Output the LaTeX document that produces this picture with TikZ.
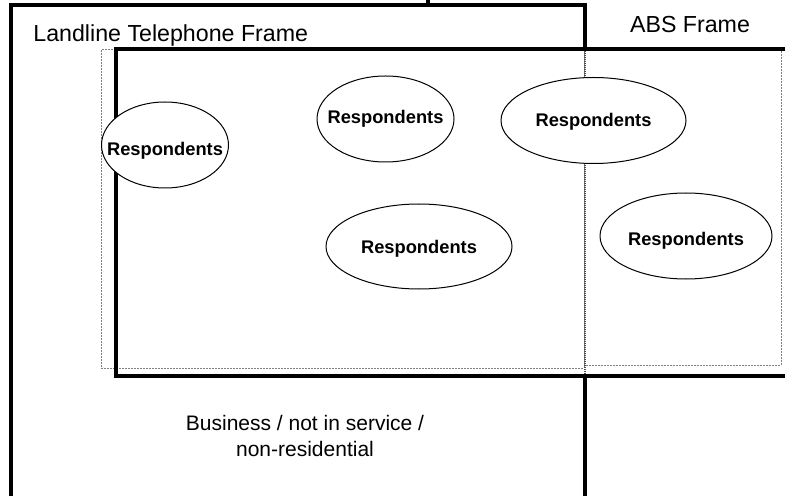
\documentclass[tikz,border=0pt]{standalone}
\usepackage{fontspec}
\setmainfont{Liberation Sans}
\usetikzlibrary{shapes.geometric}

\begin{document}
\begin{tikzpicture}[
  x=0.5pt, y=-0.5pt,
  frame/.style={line width=2pt},
  edge/.style={gray, line width=0.5pt, dash pattern=on 1pt off 0.5pt},
  split/.style={black!70, line width=1pt, dash pattern=on 0.6pt off 0.4pt},
  resp/.style={ellipse, draw, fill=white, line width=0.5pt, inner sep=0pt},
  who/.style={font=\fontsize{9.15}{11}\selectfont\bfseries, inner sep=0pt},
  title/.style={font=\fontsize{11.6}{14}\selectfont, inner sep=0pt}
]
\useasboundingbox (0,0) rectangle (785,496);
\clip (0,0) rectangle (785,496);

% thin outlines of the overlap cells
\draw[edge] (101,50) rectangle (584,368);
\draw[edge] (584,49) rectangle (781,365);

% landline frame
\draw[frame] (11,510) -- (11,5) -- (584.5,5) -- (584.5,49);
\draw[frame] (584.5,376) -- (584.5,510);
\draw[split] (584.5,49) -- (584.5,376);
\draw[frame] (428,-5) -- (428,5);

% ABS frame
\draw[frame] (800,49) -- (116,49) -- (116,376) -- (800,376);

% frame titles
\node[title, anchor=base west] (landline) at (33,42) {Landline Telephone Frame};
\node[title, anchor=base] (abs) at (690,33) {ABS Frame};
\node[title, font=\fontsize{10.5}{13}\selectfont, align=center] (other)
  at (305,436) {Business / not in service /\\non-residential};

% respondent groups
\node[resp, minimum width=63.5pt, minimum height=43pt,
  label={[who, yshift=-3pt]center:Respondents}] (r1) at (165,145) {};
\node[resp, minimum width=68.5pt, minimum height=43pt,
  label={[who]center:Respondents}] (r2) at (385.5,119) {};
\node[resp, minimum width=92.5pt, minimum height=43pt,
  label={[who, yshift=-0.5pt]center:Respondents}] (r3) at (593.5,120.5) {};
\node[resp, minimum width=93pt, minimum height=42.5pt,
  label={[who, yshift=-1pt]center:Respondents}] (r4) at (419,246.5) {};
\node[resp, minimum width=86pt, minimum height=43pt,
  label={[who, yshift=-2.5pt]center:Respondents}] (r5) at (686,236) {};
\end{tikzpicture}
\end{document}
